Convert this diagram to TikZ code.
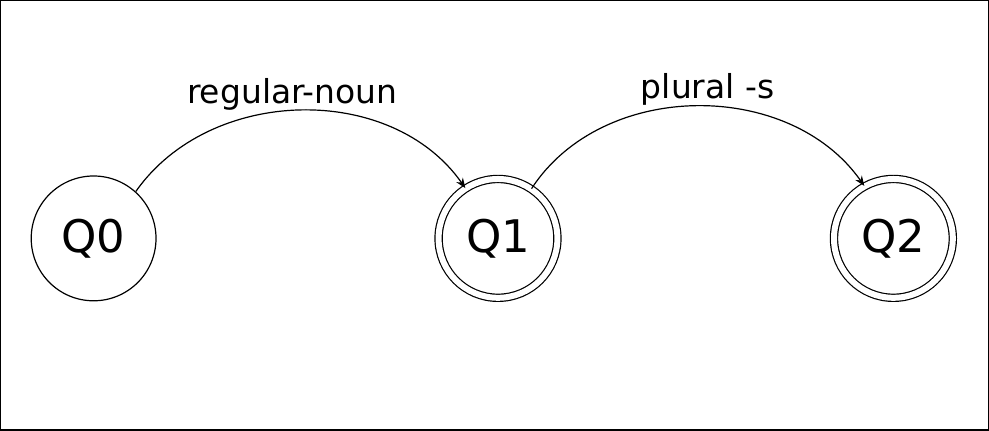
\documentclass[tikz,border=0pt]{standalone}
\usepackage{fontspec}
\setmainfont{DejaVu Sans}
\usetikzlibrary{arrows.meta}
\begin{document}
\begin{tikzpicture}[x=1pt,y=-1pt,
    state/.style={circle, draw, line width=1.2pt, minimum size=125pt, inner sep=0pt, font=\fontsize{45pt}{45pt}\selectfont},
    accept/.style={state, double, double distance=6pt},
    trans/.style={line width=1.2pt, -{Stealth[length=10pt,width=8pt]}},
    lbl/.style={font=\fontsize{33pt}{33pt}\selectfont}]
    \draw[line width=1.5pt] (0,0) rectangle (989,430);
    \node[state] (q0) at (93,238) {Q0};
    \node[accept, minimum size=119pt] (q1) at (498,238) {Q1};
    \node[accept, minimum size=119pt] (q2) at (894,238) {Q2};
    \draw[trans] (q0.48) to[out=55,in=125] (q1.123);
    \draw[trans] (q1.56) to[out=57,in=125] (q2.119);
    \node[lbl] (l1) at (292,94) {regular-noun};
    \node[lbl] (l2) at (708,89) {plural -s};
\end{tikzpicture}
\end{document}
